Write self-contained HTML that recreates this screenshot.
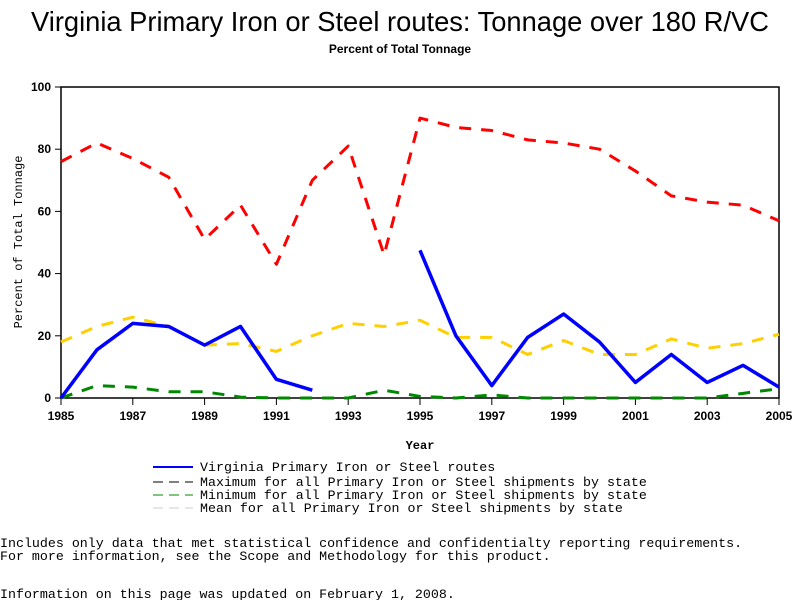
<!DOCTYPE html>
<html><head><meta charset="utf-8"><style>
body{margin:0;background:#fff;width:800px;height:600px;overflow:hidden;font-family:"Liberation Mono",monospace}
svg text{font-family:"Liberation Sans",sans-serif}
.m{font-family:"Liberation Mono",monospace}
</style></head><body>
<svg id="c" width="800" height="600">
<text x="400" y="31" text-anchor="middle" font-size="27.3">Virginia Primary Iron or Steel routes: Tonnage over 180 R/VC</text>
<text x="400" y="53" text-anchor="middle" font-size="12" font-weight="bold">Percent of Total Tonnage</text>
<rect x="61" y="87" width="718" height="311" fill="none" stroke="#000" stroke-width="1.5"/>
<g id="axes"></g>
<g id="series"></g>
<text x="420" y="449" text-anchor="middle" font-size="12" font-weight="bold" class="m">Year</text>
<text transform="translate(22,242) rotate(-90)" text-anchor="middle" font-size="12" class="m">Percent of Total Tonnage</text>
<g font-size="13.3" class="m">
<line x1="153" y1="467" x2="193" y2="467" stroke="#00f" stroke-width="2"/>
<text x="200" y="471" class="m">Virginia Primary Iron or Steel routes</text>
<line x1="153" y1="482" x2="193" y2="482" stroke="#000" stroke-dasharray="10,6"/>
<text x="200" y="486" class="m">Maximum for all Primary Iron or Steel shipments by state</text>
<line x1="153" y1="495" x2="193" y2="495" stroke="#080" stroke-dasharray="10,6"/>
<text x="200" y="499" class="m">Minimum for all Primary Iron or Steel shipments by state</text>
<line x1="153" y1="508" x2="193" y2="508" stroke="#ccc" stroke-dasharray="10,6"/>
<text x="200" y="512" class="m">Mean for all Primary Iron or Steel shipments by state</text>
</g>
<text x="0" y="547" font-size="13.3" class="m">Includes only data that met statistical confidence and confidentialty reporting requirements.</text>
<text x="0" y="560" font-size="13.3" class="m">For more information, see the Scope and Methodology for this product.</text>
<text x="0" y="598" font-size="13.3" class="m">Information on this page was updated on February 1, 2008.</text>
</svg>
<script>
const years=[1985,1986,1987,1988,1989,1990,1991,1992,1993,1994,1995,1996,1997,1998,1999,2000,2001,2002,2003,2004,2005];
const maxVals=[76,82,77,71,51,62,43,70,81,46,90,87,86,83,82,80,73,65,63,62,57];
const meanVals=[18,23,26,23,17,17.5,15,20,24,23,25,19.5,19.5,14,18.5,14,14,19,16,17.5,20.5];
const minVals=[0,4,3.5,2,2,0.3,0,0,0,2.5,0.5,0,1,0,0,0,0,0,0,1.5,3];
const vaVals=[0,15.5,24,23,17,23,6,2.5,null,null,47.5,20,4,19.5,27,18,5,14,5,10.5,3.5];
const yTicks=[0,20,40,60,80,100];
const xTicks=[1985,1987,1989,1991,1993,1995,1997,1999,2001,2003,2005];
const NS="http://www.w3.org/2000/svg";
const X=y=>61+(y-1985)*718/20, Y=v=>398-v*311/100;
const ax=document.getElementById('axes'), sg=document.getElementById('series');
function mk(t,a,p){const e=document.createElementNS(NS,t);for(const k in a)e.setAttribute(k,a[k]);p.appendChild(e);return e;}
yTicks.forEach(v=>{
 const l=mk('line',{x1:55,x2:61,y1:Y(v),y2:Y(v),stroke:'#000'},ax);
 
 
 const t=mk('text',{x:51,y:Y(v)+4,'text-anchor':'end','font-size':12,'font-weight':'bold'},ax);t.textContent=v;
 
 
});
xTicks.forEach(v=>{
 const l=mk('line',{x1:X(v),x2:X(v),y1:398,y2:405,stroke:'#000'},ax);
 
 
 const t=mk('text',{x:X(v),y:420,'text-anchor':'middle','font-size':12,'font-weight':'bold'},ax);t.textContent=v;
 
 
});
function line(vals,color,w,dash,name){
 let d='',pen=false;
 vals.forEach((v,i)=>{if(v===null){pen=false;return;}d+=(pen?'L':'M')+X(years[i])+','+Y(v)+' ';pen=true;});
 const p=mk('path',{d:d,fill:'none',stroke:color,'stroke-width':w,'stroke-linejoin':'round'},sg);
 if(dash)p.setAttribute('stroke-dasharray',dash);
 
 
}
line(maxVals,'#f00',3,'12,10','max-line');
line(meanVals,'#ffd000',3,'12,10','mean-line');
line(minVals,'#080',3,'12,10','min-line');
line(vaVals,'#00f',3.5,null,'virginia-line');
</script>
</body></html>
